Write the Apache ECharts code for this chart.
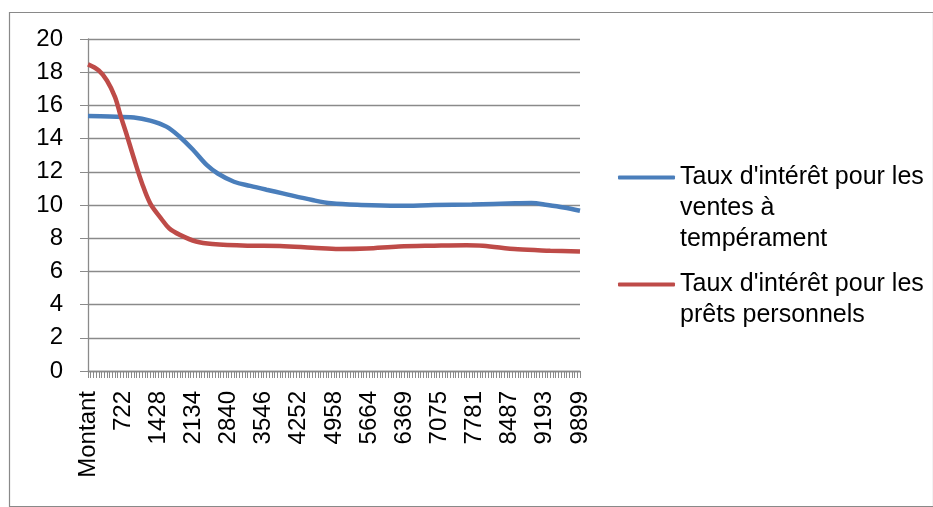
<!DOCTYPE html>
<html>
<head>
<meta charset="utf-8">
<script src="https://cdn.jsdelivr.net/npm/echarts@6/dist/echarts.min.js"></script>
<style>
html,body{margin:0;padding:0;background:#fff;}
#chart{width:933px;height:507px;}
</style>
</head>
<body>
<div id="chart"></div>
<script>
// Tick labels of the category (amount) axis, one every 13 categories
var xLabels = ['Montant','722','1428','2134','2840','3546','4252','4958','5664','6369','7075','7781','8487','9193','9899'];
var catPerLabel = 13;
var lastIndex = 182;

// Series 1: Taux d'intérêt pour les ventes à tempérament (category index, value)
var blueIdx = [0, 8, 17, 23, 29, 34, 39, 44, 48, 54, 60, 66, 72, 83, 90, 101, 115, 128, 142, 158, 164, 170, 176, 182];
var blueVal = [15.36, 15.33, 15.27, 15.08, 14.72, 14.1, 13.3, 12.4, 11.9, 11.4, 11.15, 10.92, 10.7, 10.3, 10.1, 10.0, 9.95, 10.0, 10.03, 10.1, 10.12, 10.0, 9.85, 9.65];

// Series 2: Taux d'intérêt pour les prêts personnels
var redIdx = [0, 4, 7, 10, 12, 14, 17, 20, 23, 27, 30, 34, 40, 46, 59, 71, 83, 93, 103, 115, 128, 140, 146, 159, 171, 182];
var redVal = [18.47, 18.1, 17.5, 16.5, 15.4, 14.4, 12.8, 11.3, 10.1, 9.2, 8.6, 8.2, 7.8, 7.65, 7.55, 7.53, 7.43, 7.35, 7.38, 7.5, 7.55, 7.58, 7.55, 7.33, 7.25, 7.2];

var seriesNames = ["Taux d'intérêt pour les ventes à tempérament", "Taux d'intérêt pour les prêts personnels"];
var legendLines = [["Taux d'intérêt pour les", "ventes à", "tempérament"], ["Taux d'intérêt pour les", "prêts personnels"]];

function pairs(xs, ys){ return xs.map(function(x,i){ return [x, ys[i]]; }); }
// Blank lines are prepended so the legend icon sits beside the first text line
function legendText(lines){
  var pad = [];
  for (var i = 1; i < lines.length; i++) pad.push('');
  return pad.concat(lines).join('\n');
}

var FONT = "'Liberation Sans', Arial, sans-serif";
var GRAY = '#8a8a8a';
var BLUE = '#4a7ebb';
var RED = '#be4b48';

var chart = echarts.init(document.getElementById('chart'), null, {renderer:'canvas'});
chart.setOption({
  animation: false,
  backgroundColor: '#fff',
  graphic: [{
    type: 'rect', left: 7, top: 10,
    shape: {width: 924, height: 494},
    style: {fill: 'none', stroke: '#898989', lineWidth: 1.2},
    silent: true
  }],
  grid: {left: 88, right: 353, top: 39, bottom: 136},
  xAxis: {
    type: 'value', min: 0, max: lastIndex, interval: catPerLabel,
    axisLine: {show: true, lineStyle: {color: GRAY, width: 1.3}},
    axisTick: {show: true, length: 7, lineStyle: {color: GRAY}},
    minorTick: {show: true, splitNumber: catPerLabel, length: 7, lineStyle: {color: GRAY}},
    splitLine: {show: false},
    minorSplitLine: {show: false},
    axisLabel: {
      rotate: 90, margin: 20, color: '#000', fontFamily: FONT, fontSize: 24,
      formatter: function(v){ var k = Math.round(v / catPerLabel); return xLabels[k] !== undefined ? xLabels[k] : ''; }
    }
  },
  yAxis: {
    type: 'value', min: 0, max: 20, interval: 2,
    axisLine: {show: true, lineStyle: {color: GRAY, width: 1.3}},
    axisTick: {show: true, length: 8, lineStyle: {color: GRAY}},
    splitLine: {show: true, lineStyle: {color: GRAY, width: 1.3}},
    axisLabel: {margin: 25, color: '#000', fontFamily: FONT, fontSize: 24}
  },
  legend: [{
    left: 618, top: 100, padding: 0,
    itemWidth: 57, itemHeight: 4, icon: 'roundRect',
    data: [{name: seriesNames[0], itemStyle: {color: BLUE}}],
    formatter: function(){ return legendText(legendLines[0]); },
    textStyle: {fontFamily: FONT, fontSize: 25, color: '#000', lineHeight: 31}
  }, {
    left: 618, top: 238, padding: 0,
    itemWidth: 57, itemHeight: 4, icon: 'roundRect',
    data: [{name: seriesNames[1], itemStyle: {color: RED}}],
    formatter: function(){ return legendText(legendLines[1]); },
    textStyle: {fontFamily: FONT, fontSize: 25, color: '#000', lineHeight: 31}
  }],
  series: [{
    name: seriesNames[0], type: 'line', data: pairs(blueIdx, blueVal),
    smooth: 0.35, showSymbol: false, lineStyle: {color: BLUE, width: 4.5}, itemStyle: {color: BLUE}
  }, {
    name: seriesNames[1], type: 'line', data: pairs(redIdx, redVal),
    smooth: 0.35, showSymbol: false, lineStyle: {color: RED, width: 4.5}, itemStyle: {color: RED}
  }]
});
</script>
</body>
</html>
